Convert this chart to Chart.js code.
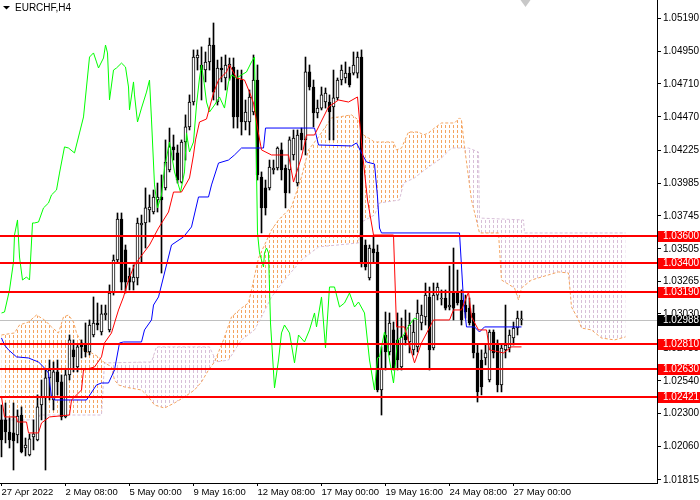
<!DOCTYPE html>
<html lang="en">
<head>
    <meta charset="UTF-8">
    <title>EURCHF,H4</title>
    <script src="https://cdn.jsdelivr.net/npm/chart.js@4.4.1/dist/chart.umd.min.js"></script>
    <style>
        body {
            margin: 0;
            padding: 0;
            background-color: #ffffff;
        }
        canvas {
            display: block;
        }
    </style>
</head>
<body>
    <canvas id="fxChart" width="700" height="500"></canvas>

    <script>
        // candles, index 0 = first H4 bar on the left
        const candleOpen = [1.02254,1.02254,1.02166,1.02159,1.02145,1.02290,1.02049,1.01998,1.02130,1.02108,
            1.02363,1.02415,1.02561,1.02400,1.02605,1.02532,1.02276,1.02583,1.02766,1.02641,
            1.02817,1.02802,1.02751,1.02875,1.02963,1.02897,1.03021,1.02912,1.03182,1.03423,
            1.03723,1.03497,1.03306,1.03262,1.03292,1.03679,1.03694,1.03789,1.03774,1.03862,
            1.03884,1.03950,1.04081,1.04250,1.04206,1.03993,1.04286,1.04396,1.04578,1.04900,
            1.04849,1.04812,1.04871,1.04995,1.04578,1.04827,1.04754,1.04834,1.04834,1.04754,
            1.04739,1.04432,1.04432,1.04505,1.04739,1.04030,1.03950,1.03950,1.04081,1.04096,
            1.04228,1.04096,1.04081,1.04191,1.03986,1.04352,1.04301,1.04798,1.04688,1.04498,
            1.04534,1.04578,1.04578,1.04542,1.04608,1.04739,1.04754,1.04790,1.04790,1.04790,
            1.04907,1.03533,1.03292,1.03504,1.03482,1.02473,1.02875,1.02751,1.02912,1.02839,
            1.02641,1.02875,1.02824,1.02766,1.02788,1.02963,1.03007,1.03153,1.02780,1.03167,
            1.03138,1.03145,1.03080,1.03189,1.03182,1.03131,1.03094,1.03072,1.03036,1.02744,
            1.02692,1.02707,1.02546,1.02897,1.02802,1.02510,1.02766,1.02780,1.02853,1.02926,
            1.02985];
        const candleHigh = [1.02363,1.02378,1.02269,1.02378,1.02327,1.02349,1.02122,1.02152,1.02254,1.02437,
            1.02546,1.02619,1.02692,1.02678,1.02692,1.02583,1.02619,1.02875,1.02839,1.02802,
            1.02839,1.02963,1.02985,1.03153,1.03109,1.03094,1.03094,1.03241,1.03460,1.03767,
            1.03767,1.03533,1.03365,1.03387,1.03730,1.03752,1.03950,1.03899,1.03935,1.03986,
            1.04045,1.04301,1.04388,1.04337,1.04264,1.04301,1.04484,1.04630,1.04959,1.04959,
            1.04981,1.04944,1.05046,1.05156,1.04885,1.04907,1.04922,1.04900,1.04900,1.04812,
            1.04812,1.04593,1.04666,1.04922,1.04849,1.04067,1.04008,1.04154,1.04154,1.04250,
            1.04279,1.04118,1.04323,1.04374,1.04374,1.04388,1.04907,1.04849,1.04739,1.04593,
            1.04688,1.04681,1.04630,1.04812,1.04754,1.04849,1.04871,1.04834,1.04944,1.04944,
            1.04959,1.03570,1.03533,1.03592,1.03533,1.02788,1.03043,1.03036,1.02970,1.03036,
            1.02999,1.03058,1.03036,1.02985,1.03131,1.03094,1.03255,1.03226,1.03255,1.03255,
            1.03204,1.03204,1.03379,1.03511,1.03350,1.03204,1.03167,1.03145,1.03094,1.02802,
            1.02766,1.02802,1.02912,1.02912,1.02839,1.02802,1.03094,1.02912,1.02970,1.03050,
            1.03050];
        const candleLow = [1.01984,1.02086,1.02049,1.01888,1.02086,1.02013,1.01991,1.01991,1.02035,1.02101,
            1.02254,1.01888,1.02400,1.02327,1.02437,1.02254,1.02269,1.02546,1.02605,1.02605,
            1.02707,1.02715,1.02729,1.02861,1.02912,1.02875,1.02985,1.02897,1.03167,1.03409,
            1.03204,1.03182,1.03204,1.03204,1.03241,1.03409,1.03511,1.03701,1.03760,1.03774,
            1.03328,1.03935,1.04067,1.04154,1.03986,1.03986,1.04154,1.04374,1.04556,1.04812,
            1.04593,1.04725,1.04812,1.04593,1.04556,1.04725,1.04666,1.04739,1.04388,1.04388,
            1.04337,1.04374,1.04337,1.04484,1.04008,1.03621,1.03752,1.03935,1.04052,1.04081,
            1.04008,1.03804,1.03913,1.04154,1.03964,1.04228,1.04191,1.04666,1.04396,1.04462,
            1.04520,1.04534,1.04301,1.04301,1.04593,1.04703,1.04717,1.04688,1.04776,1.04754,
            1.03372,1.03350,1.03277,1.03401,1.02459,1.02290,1.02619,1.02729,1.02619,1.02619,
            1.02619,1.02802,1.02744,1.02729,1.02751,1.02912,1.02948,1.02619,1.02766,1.03131,
            1.03094,1.03058,1.03058,1.02985,1.03094,1.02948,1.02999,1.02948,1.02707,1.02385,
            1.02437,1.02656,1.02532,1.02707,1.02459,1.02459,1.02707,1.02751,1.02802,1.02875,
            1.02948];
        const candleClose = [1.02108,1.02166,1.02108,1.02101,1.02283,1.02020,1.02071,1.02115,1.02152,1.02349,
            1.02422,1.02561,1.02619,1.02605,1.02532,1.02276,1.02583,1.02839,1.02715,1.02788,
            1.02788,1.02751,1.02948,1.02963,1.02948,1.03029,1.03036,1.03182,1.03423,1.03723,
            1.03262,1.03262,1.03262,1.03299,1.03694,1.03694,1.03804,1.03811,1.03884,1.03884,
            1.03862,1.04140,1.04250,1.04228,1.04008,1.04286,1.04396,1.04578,1.04907,1.04922,
            1.04812,1.04871,1.04995,1.04651,1.04827,1.04812,1.04849,1.04856,1.04469,1.04469,
            1.04432,1.04505,1.04615,1.04739,1.04045,1.03804,1.03804,1.04103,1.04096,1.04242,
            1.04081,1.03913,1.04301,1.04315,1.04337,1.04301,1.04798,1.04688,1.04498,1.04534,
            1.04630,1.04644,1.04505,1.04608,1.04739,1.04812,1.04790,1.04703,1.04849,1.04907,
            1.03409,1.03372,1.03511,1.03475,1.02473,1.02634,1.02751,1.02963,1.02634,1.02692,
            1.02861,1.02839,1.02948,1.02897,1.03036,1.03021,1.03167,1.02766,1.03167,1.03226,
            1.03145,1.03072,1.03094,1.03072,1.03109,1.02985,1.03043,1.02963,1.02744,1.02459,
            1.02495,1.02744,1.02897,1.02744,1.02510,1.02780,1.02802,1.02875,1.02926,1.02999,
            1.02988];

        // ichimoku lines as [bar index, price]
        const tenkan = [[0,1.02422],[0.75,1.02276],[3.75,1.02276],[4,1.02239],[6.25,1.02239],[6.75,1.02159],[9.25,1.02159],
            [10,1.02232],[12,1.02276],[17,1.02290],[17.5,1.02400],[20,1.02473],[20.5,1.02619],[23.25,1.02641],[25,1.02715],
            [25.75,1.02817],[27.5,1.02890],[28.25,1.02963],[29.25,1.03058],[30.5,1.03153],[31.75,1.03277],[33.25,1.03387],
            [37,1.03533],[39.25,1.03657],[41.75,1.03774],[43,1.03920],[45,1.03920],[47,1.04023],[48,1.04191],[48.5,1.04301],
            [49.5,1.04432],[51.25,1.04454],[53,1.04644],[54.25,1.04739],[56.25,1.04798],[57,1.04849],[58.75,1.04754],
            [60.75,1.04739],[62,1.04651],[63,1.04571],[64,1.04388],[65,1.04228],[67.5,1.04191],[71.75,1.04191],[73,1.03993],
            [75,1.04176],[76.25,1.04337],[78.25,1.04337],[81.75,1.04542],[84.25,1.04593],[86.75,1.04578],[89,1.04615],
            [89.5,1.04447],[90.25,1.04206],[91.5,1.03862],[93,1.03606],[98,1.03606],[98.75,1.02934],[100.75,1.02934],
            [103.25,1.02671],[105,1.02817],[108,1.02985],[112,1.02985],[113,1.03058],[115,1.03058],[116.75,1.03189],
            [117.5,1.03007],[119.25,1.02912],[121.25,1.02912],[122,1.02766],[125.5,1.02744],[127.5,1.02788],[130,1.02788]];
        const kijun = [[0,1.02853],[0.75,1.02802],[1.75,1.02766],[3.75,1.02715],[6.75,1.02707],[8,1.02692],[9.25,1.02678],
            [10.5,1.02641],[11.75,1.02597],[12.5,1.02422],[13.25,1.02400],[21.25,1.02400],[23.75,1.02510],[25,1.02524],
            [26.75,1.02524],[28.25,1.02619],[29.5,1.02817],[30.5,1.02824],[35,1.02824],[35.75,1.02912],[37.5,1.02985],
            [38,1.03094],[39.25,1.03153],[41.25,1.03387],[42.5,1.03533],[45.5,1.03592],[47.5,1.03665],[49.25,1.03884],
            [51.75,1.03884],[52.5,1.03972],[54.25,1.04132],[56.75,1.04154],[58.25,1.04191],[60,1.04242],[65.5,1.04242],
            [66,1.04388],[78.25,1.04388],[79.25,1.04264],[87.5,1.04257],[88.75,1.04279],[90,1.04206],[91.25,1.04140],
            [93.25,1.04125],[94,1.03884],[94.5,1.03657],[95,1.03621],[114.5,1.03621],[115.5,1.03131],[116.25,1.02934],
            [118.25,1.02934],[119.5,1.02897],[120.75,1.02934],[130,1.02934]];
        const chikou = [[0,1.03036],[0.75,1.03043],[2,1.03204],[3,1.03409],[3.25,1.03606],[4,1.03716],[4.5,1.03445],
            [5.25,1.03277],[6.25,1.03299],[7,1.03277],[7.75,1.03694],[8.25,1.03694],[9.25,1.03701],[10.5,1.03804],
            [11.75,1.03840],[12.5,1.03899],[13.75,1.03935],[14.5,1.04059],[15.75,1.04250],[16.75,1.04242],[18.25,1.04206],
            [19.5,1.04352],[20.5,1.04469],[21.25,1.04688],[22,1.04907],[23,1.04937],[23.75,1.04871],[24.25,1.04827],
            [25.5,1.04900],[26,1.04995],[26.5,1.04937],[27,1.04593],[28,1.04812],[28.75,1.04827],[30,1.04863],[31,1.04834],
            [31.75,1.04688],[32,1.04520],[33,1.04725],[33.25,1.04630],[34,1.04432],[35,1.04534],[36.25,1.04651],[37,1.04739],
            [37.5,1.04447],[38.25,1.03972],[39,1.03804],[40,1.03899],[40.75,1.04096],[42,1.04286],[43.25,1.04067],
            [44.75,1.03920],[45.75,1.04067],[46.25,1.04352],[47,1.04213],[48,1.04286],[48.75,1.04556],[49.5,1.04754],
            [50,1.04849],[50.5,1.04754],[51.25,1.04578],[52,1.04505],[53.25,1.04556],[54.5,1.04615],[55.75,1.04534],
            [56.75,1.04725],[57.5,1.04776],[58.75,1.04754],[60,1.04776],[61.25,1.04798],[62.5,1.04871],[63.25,1.04907],
            [63.5,1.04542],[64,1.03621],[64.5,1.03475],[65.5,1.03372],[65.75,1.03475],[66.25,1.03511],[66.75,1.03475],
            [67.25,1.02963],[68.25,1.02488],[69.25,1.02692],[70,1.02890],[70.75,1.02948],[72,1.02890],[73.25,1.02671],
            [74.25,1.02875],[75.75,1.02824],[77,1.02912],[78.25,1.03036],[78.75,1.02934],[80,1.03153],[81,1.02780],
            [82,1.03226],[83.25,1.03226],[84.5,1.03080],[85.75,1.03109],[87,1.03182],[88.25,1.03080],[89.25,1.03116],
            [90.75,1.03036],[92,1.02692],[93.25,1.02473],[94,1.02707],[94.5,1.02715],[95.75,1.02897],[96.25,1.02839],
            [97,1.02692],[98,1.02524],[98.5,1.02671],[99,1.02839],[100.25,1.02861],[101.5,1.02926],[102.5,1.02970],
            [103.25,1.02999],[104,1.02988]];
        const spanA = [[0,1.02875],[3.25,1.02890],[4.5,1.02948],[6.75,1.02970],[8.75,1.03021],[10.75,1.02985],[12.5,1.02934],
            [14.25,1.02890],[15.5,1.03007],[16.75,1.03021],[18,1.02970],[18.75,1.02890],[20,1.02817],[20.75,1.02751],
            [22.5,1.02744],[24.25,1.02715],[25.5,1.02678],[27.5,1.02641],[28.25,1.02546],[29.25,1.02510],[30.75,1.02495],
            [35,1.02473],[36.75,1.02422],[38.25,1.02363],[40.75,1.02341],[43.25,1.02378],[45.75,1.02422],[48.25,1.02473],
            [50,1.02532],[51.75,1.02619],[53.25,1.02678],[55.5,1.02839],[57.5,1.03007],[60,1.03072],[61.75,1.03109],
            [62.5,1.03204],[64.25,1.03438],[67.5,1.03643],[69.25,1.03716],[72.5,1.03811],[75,1.04030],[76.75,1.04228],
            [79.25,1.04323],[82.5,1.04462],[84.25,1.04469],[87.5,1.04484],[89.25,1.04447],[90.5,1.04337],[91.75,1.04315],
            [93.25,1.04286],[98,1.04286],[98.75,1.04228],[100,1.04242],[101.75,1.04359],[104.25,1.04359],[105.5,1.04337],
            [106.75,1.04352],[108.25,1.04388],[110,1.04425],[113.25,1.04425],[114.5,1.04462],[115,1.04447],[115.75,1.04250],
            [117.5,1.03862],[119.5,1.03621],[124.25,1.03621],[125,1.03277],[128.25,1.03219],[129.25,1.03131],[130,1.03219],
            [132.5,1.03277],[135,1.03299],[139.25,1.03336],[141.75,1.03328],[142.5,1.03080],[144.25,1.02985],[145,1.02926],
            [147.5,1.02912],[150,1.02853],[153.25,1.02839],[156,1.02861]];
        const spanB = [[0,1.02254],[9.25,1.02254],[9.5,1.02290],[25,1.02290],[25.75,1.02671],[37.5,1.02678],[38.75,1.02788],
            [52,1.02788],[53.75,1.02678],[56.75,1.02692],[60,1.02839],[63.25,1.02912],[65,1.03007],[67.5,1.03153],
            [70.75,1.03277],[75,1.03423],[79.25,1.03519],[89.25,1.03548],[90,1.03701],[93.25,1.03752],[94.5,1.03840],
            [99.5,1.03862],[100.5,1.03986],[103.25,1.04023],[105.75,1.04081],[110,1.04169],[112.5,1.04242],[116.75,1.04242],
            [119.25,1.04213],[119.5,1.03730],[130.5,1.03716],[130.75,1.03621],[156,1.03621]];

        const levels = [1.03600, 1.03400, 1.03190, 1.02810, 1.02630, 1.02421];
        const lastPrice = 1.02988;

        const yTicks = [1.05190, 1.04950, 1.04710, 1.04470, 1.04225, 1.03985, 1.03745, 1.03505,
            1.03265, 1.03030, 1.02780, 1.02540, 1.02300, 1.02060, 1.01815];
        const xTickIdx = [0, 16, 32, 48, 64, 80, 96, 112, 128];
        const xTickLabels = ['27 Apr 2022', '2 May 08:00', '5 May 00:00', '9 May 16:00', '12 May 08:00',
            '17 May 00:00', '19 May 16:00', '24 May 08:00', '27 May 00:00'];

        const canvas = document.getElementById('fxChart');
        const ctx = canvas.getContext('2d');
        const FONT = 'Liberation Sans';
        const UP_CLOUD = '#f4a460';
        const DOWN_CLOUD = '#d8bfd8';

        const toXY = arr => arr.map(p => ({ x: p[0], y: p[1] }));

        const wicks = candleOpen.map((o, i) => ({ x: i, y: [candleLow[i], candleHigh[i]] }));
        const bodies = candleOpen.map((o, i) => ({ x: i, y: [o, candleClose[i]] }));
        const bodyColors = candleOpen.map((o, i) => candleClose[i] >= o ? '#ffffff' : '#000000');

        const lineBase = { type: 'line', pointRadius: 0, borderWidth: 1, tension: 0, fill: false };

        function dotGrid(ctx, color, x0, x1, y0, y1) {
            ctx.fillStyle = color;
            for (let px = x0; px < x1; px += 4) {
                for (let py = y0; py < y1; py += 5) {
                    ctx.fillRect(px, py, 1, 3);
                }
            }
        }

        // kumo hatch between span A and span B, coloured by which span is on top
        const kumo = {
            id: 'kumo',
            beforeDatasetsDraw(chart) {
                const { ctx, chartArea: a } = chart;
                const pa = chart.getDatasetMeta(0).data.map(p => [p.x, p.y]);
                const pb = chart.getDatasetMeta(1).data.map(p => [p.x, p.y]);
                if (!pa.length || !pb.length) return;

                const between = () => {
                    ctx.beginPath();
                    pa.forEach(([x, y], k) => k ? ctx.lineTo(x, y) : ctx.moveTo(x, y));
                    for (let k = pb.length - 1; k >= 0; k--) ctx.lineTo(pb[k][0], pb[k][1]);
                    ctx.closePath();
                };
                const side = edge => {
                    ctx.beginPath();
                    ctx.moveTo(pb[0][0], edge);
                    pb.forEach(([x, y]) => ctx.lineTo(x, y));
                    ctx.lineTo(pb[pb.length - 1][0], edge);
                    ctx.closePath();
                };
                const x0 = Math.floor(a.left) + 1;

                ctx.save();
                between(); ctx.clip();
                side(a.top); ctx.clip();
                dotGrid(ctx, UP_CLOUD, x0, a.right, a.top, a.bottom);
                ctx.restore();

                ctx.save();
                between(); ctx.clip();
                side(a.bottom); ctx.clip();
                dotGrid(ctx, DOWN_CLOUD, x0, a.right, a.top, a.bottom);
                ctx.restore();
            }
        };

        const decor = {
            id: 'decor',
            beforeDatasetsDraw(chart) {
                const { ctx, chartArea: a, scales: { y } } = chart;
                const py = Math.round(y.getPixelForValue(lastPrice)) + 0.5;
                ctx.save();
                ctx.strokeStyle = '#c0c0c0';
                ctx.lineWidth = 1;
                ctx.beginPath();
                ctx.moveTo(a.left, py);
                ctx.lineTo(a.right, py);
                ctx.stroke();
                ctx.restore();
            },
            afterDatasetsDraw(chart) {
                const { ctx, chartArea: a, scales: { y } } = chart;
                ctx.save();
                ctx.fillStyle = '#ff0000';
                levels.forEach(v => {
                    const py = Math.round(y.getPixelForValue(v));
                    ctx.fillRect(a.left, py - 1, a.right - a.left, 2);
                });
                ctx.restore();
            },
            afterDraw(chart) {
                const { ctx, chartArea: a, scales: { x, y } } = chart;
                ctx.save();
                ctx.font = '10px "' + FONT + '"';
                ctx.textBaseline = 'middle';
                ctx.textAlign = 'left';
                const tag = (v, bg) => {
                    const py = Math.round(y.getPixelForValue(v));
                    ctx.fillStyle = bg;
                    ctx.fillRect(a.right + 1, py - 5, 700 - a.right - 1, 11);
                    ctx.fillStyle = '#ffffff';
                    ctx.fillText(v.toFixed(5), a.right + 6, py + 0.5);
                };
                tag(lastPrice, '#000000');
                levels.forEach(v => tag(v, '#ff0000'));

                // symbol caption
                ctx.fillStyle = '#000000';
                ctx.beginPath();
                ctx.moveTo(3, 6);
                ctx.lineTo(10, 6);
                ctx.lineTo(6.5, 9.5);
                ctx.closePath();
                ctx.fill();
                ctx.fillText('EURCHF,H4', 15, 8);

                // chart shift marker
                const mx = x.getPixelForValue(candleOpen.length);
                ctx.fillStyle = '#c8c8c8';
                ctx.beginPath();
                ctx.moveTo(mx - 5, 0);
                ctx.lineTo(mx + 5, 0);
                ctx.lineTo(mx, 7);
                ctx.closePath();
                ctx.fill();
                ctx.restore();
            }
        };

        const fxChart = new Chart(ctx, {
            type: 'line',
            data: {
                datasets: [
                    Object.assign({}, lineBase, {
                        label: 'Senkou A', data: toXY(spanA), borderColor: UP_CLOUD, borderDash: [3, 2], order: 10
                    }),
                    Object.assign({}, lineBase, {
                        label: 'Senkou B', data: toXY(spanB), borderColor: DOWN_CLOUD, borderDash: [3, 2], order: 11
                    }),
                    {
                        type: 'bar', label: 'wick', data: wicks, backgroundColor: '#000000', borderWidth: 0,
                        barThickness: 1, grouped: false, order: 6
                    },
                    {
                        type: 'bar', label: 'body', data: bodies, backgroundColor: bodyColors, borderColor: '#000000',
                        borderWidth: 1, borderSkipped: false, barThickness: 3, grouped: false, minBarLength: 1, order: 5
                    },
                    Object.assign({}, lineBase, { label: 'Chikou', data: toXY(chikou), borderColor: '#00ff00', order: 3 }),
                    Object.assign({}, lineBase, { label: 'Kijun', data: toXY(kijun), borderColor: '#0000ff', order: 2 }),
                    Object.assign({}, lineBase, { label: 'Tenkan', data: toXY(tenkan), borderColor: '#ff0000', order: 1 })
                ]
            },
            options: {
                responsive: false,
                animation: false,
                layout: { padding: 0 },
                plugins: {
                    legend: { display: false },
                    tooltip: { enabled: false }
                },
                scales: {
                    x: {
                        type: 'linear',
                        min: -0.375,
                        max: 163.875,
                        bounds: 'data',
                        offset: false,
                        afterBuildTicks: s => { s.ticks = xTickIdx.map(v => ({ value: v })); },
                        afterFit: s => { s.height = 17; s.paddingLeft = 0; s.paddingRight = 0; },
                        ticks: {
                            autoSkip: false,
                            maxRotation: 0,
                            align: 'start',
                            padding: 1,
                            color: '#000000',
                            font: { family: FONT, size: 9.5 },
                            callback: (v, i) => xTickLabels[i]
                        },
                        grid: { drawOnChartArea: false, tickLength: 3, color: '#000000', offset: false },
                        border: { display: true, color: '#000000' }
                    },
                    y: {
                        type: 'linear',
                        position: 'right',
                        min: 1.01793,
                        max: 1.05324,
                        bounds: 'data',
                        afterBuildTicks: s => { s.ticks = yTicks.map(v => ({ value: v })); },
                        afterFit: s => { s.width = 43; s.paddingTop = 0; s.paddingBottom = 0; },
                        ticks: {
                            autoSkip: false,
                            padding: 2,
                            color: '#000000',
                            font: { family: FONT, size: 10 },
                            callback: v => v.toFixed(5)
                        },
                        grid: { drawOnChartArea: false, tickLength: 4, color: '#000000' },
                        border: { display: true, color: '#000000' }
                    }
                }
            },
            plugins: [kumo, decor]
        });
    </script>
</body>
</html>
